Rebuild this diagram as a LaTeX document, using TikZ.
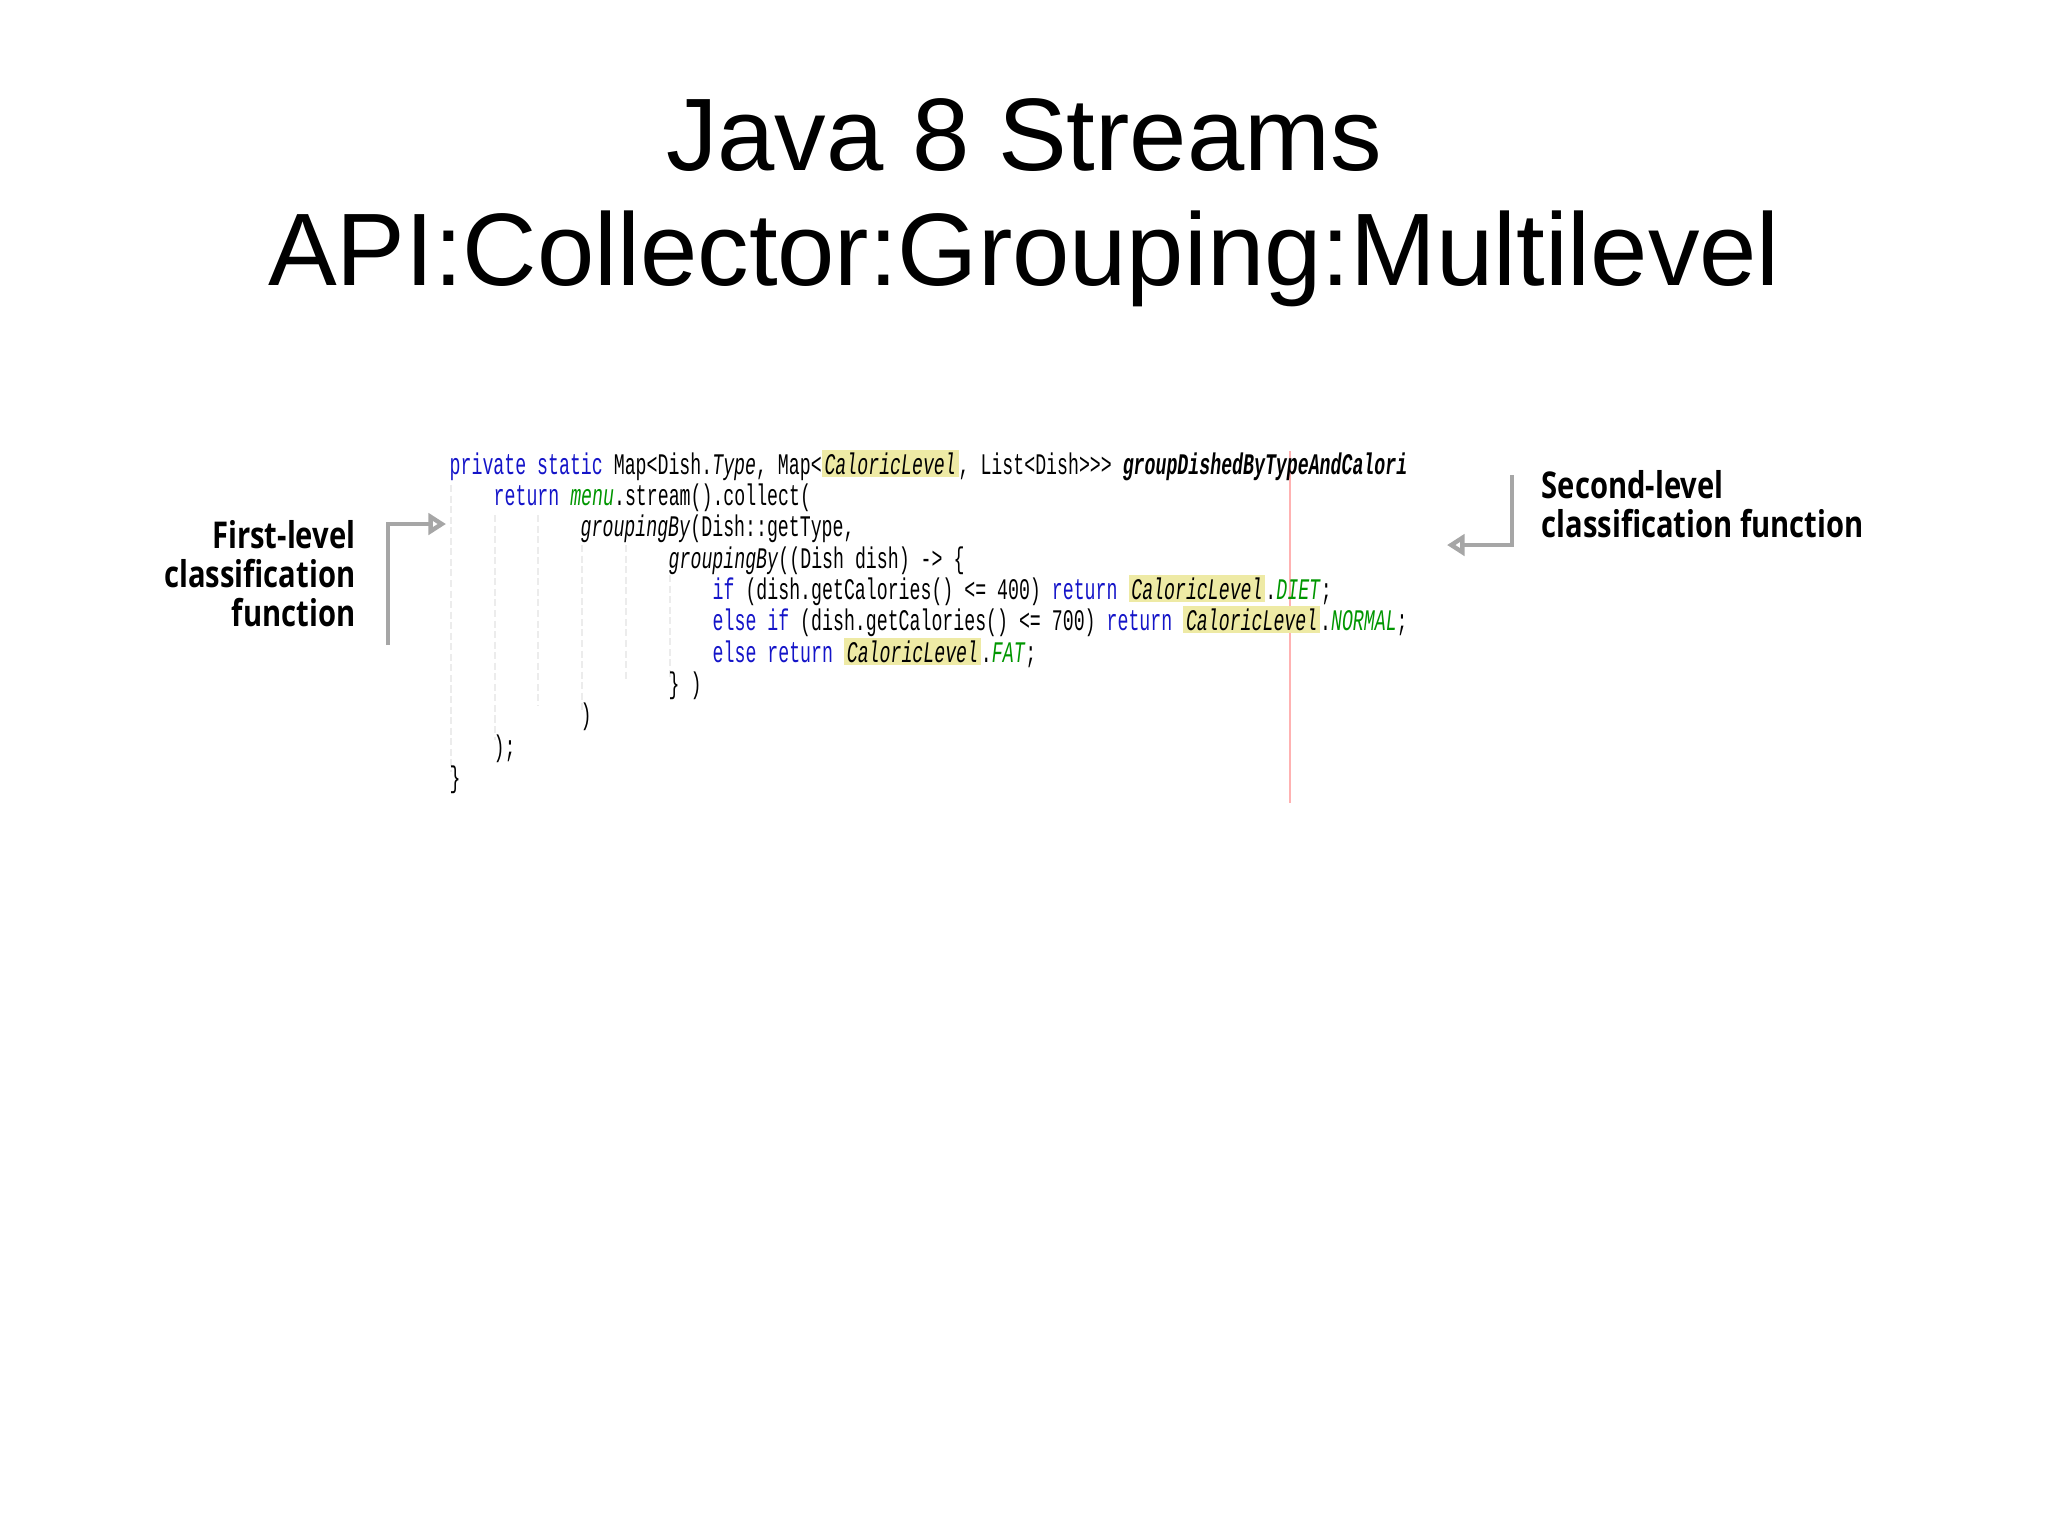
\documentclass[tikz,border=0pt]{standalone}
\usepackage{fontspec}
\usepackage{xcolor}
\setmainfont{Liberation Sans}
\newfontfamily\codefont[FakeStretch=0.61]{Liberation Mono}
\newfontfamily\labelfont[FakeStretch=0.79]{Open Sans}
\usetikzlibrary{arrows.meta}
\definecolor{kw}{RGB}{20,20,200}
\definecolor{gr}{RGB}{0,150,0}
\definecolor{hly}{RGB}{238,234,165}
\definecolor{guide}{RGB}{236,236,236}
\newcommand{\hlx}[1]{{\setlength{\fboxsep}{0.8pt}\colorbox{hly}{#1}}}
\begin{document}
\begin{tikzpicture}[x={(0.01cm,0)},y={(0,-0.01cm)},
  codeln/.style={anchor=base west,inner sep=0pt,font=\codefont\fontsize{8.5pt}{10pt}\selectfont},
  ttl/.style={font=\fontsize{29.3pt}{36pt}\selectfont,inner sep=0pt,anchor=base},
  lbl/.style={font=\labelfont\bfseries\fontsize{10.5pt}{12pt}\selectfont,inner sep=0pt},
  brk/.style={draw=gray!70,line width=1.3pt,-{Triangle[open,length=5pt,width=6pt]}}]
\useasboundingbox (0,0) rectangle (2048,1535);
\node[ttl] (t1) at (1024,170) {Java 8 Streams};
\node[ttl] (t2) at (1024,285) {API:Collector:Grouping:Multilevel};
% guides
\foreach \gx/\ya/\yb in {451/485/772, 495/515/740, 538/515/705, 582/545/712, 626/545/680, 670/575/680}
  \draw[guide,line width=0.6pt,dash pattern=on 2pt off 1pt] (\gx,\ya) -- (\gx,\yb);
\draw[red!30,line width=0.6pt] (1290,451) -- (1290,803);
\node[codeln] (c1) at (449,474) {\textcolor{kw}{private static} Map<Dish.\textit{Type}, Map<\hlx{\textit{CaloricLevel}}, List<Dish>>{}> \textbf{\textit{groupDishedByTypeAndCalori}}};
\node[codeln] (c2) at (493,505) {\textcolor{kw}{return} \textcolor{gr}{\textit{menu}}.stream().collect(};
\node[codeln] (c3) at (580,536) {\textit{groupingBy}(Dish::getType,};
\node[codeln] (c4) at (668,568) {\textit{groupingBy}((Dish dish) -> \{};
\node[codeln] (c5) at (712,599) {\textcolor{kw}{if} (dish.getCalories() <= 400) \textcolor{kw}{return} \hlx{\textit{CaloricLevel}}.\textcolor{gr}{\textit{DIET}};};
\node[codeln] (c6) at (712,630) {\textcolor{kw}{else if} (dish.getCalories() <= 700) \textcolor{kw}{return} \hlx{\textit{CaloricLevel}}.\textcolor{gr}{\textit{NORMAL}};};
\node[codeln] (c7) at (712,662) {\textcolor{kw}{else return} \hlx{\textit{CaloricLevel}}.\textcolor{gr}{\textit{FAT}};};
\node[codeln] (c8) at (668,693) {\} )};
\node[codeln] (c9) at (580,724) {)};
\node[codeln] (c10) at (493,756) {);};
\node[codeln] (c11) at (449,787) {\}};
% labels
\node[lbl,anchor=north east,align=right] (l1) at (356,520) {First-level\\[-1pt]classification\\[-1pt]function};
\node[lbl,anchor=north west,align=left] (l2) at (1541,470) {Second-level\\[-1pt]classification function};
\coordinate (b1a) at (388,645);
\coordinate (b1b) at (388,524);
\coordinate (b1c) at (446,524);
\draw[brk] (b1a) -- (b1b) -- (b1c);
\coordinate (b2a) at (1512,475);
\coordinate (b2b) at (1512,545);
\coordinate (b2c) at (1447,545);
\draw[brk] (b2a) -- (b2b) -- (b2c);
\end{tikzpicture}
\end{document}
